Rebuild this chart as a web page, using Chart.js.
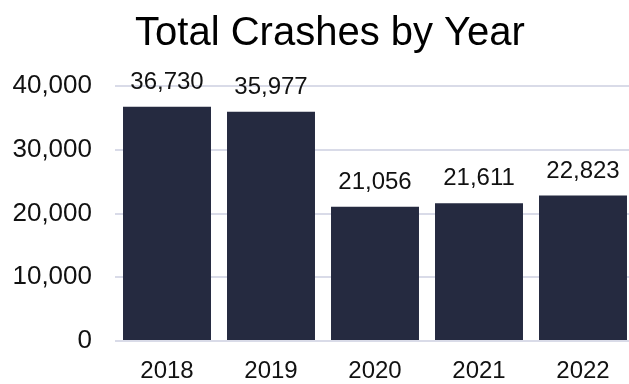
<!DOCTYPE html>
<html>
<head>
<meta charset="utf-8">
<script src="https://cdn.jsdelivr.net/npm/chart.js@4"></script>
<style>
  html, body { margin: 0; padding: 0; background: #fff; overflow: hidden; }
  /* the plot runs a few px past the right edge in the original */
  #wrap { width: 635px; height: 384px; }
</style>
</head>
<body>
<div id="wrap"><canvas id="chart"></canvas></div>
<script>
const chartTitle = "Total Crashes by Year";
const years = ["2018", "2019", "2020", "2021", "2022"];
const crashes = [36730, 35977, 21056, 21611, 22823];
const yTicks = [0, 10000, 20000, 30000, 40000];

const FONT = "'Liberation Sans', Arial, sans-serif";

// draws the value above each bar, plus the title (a bit right of centre like the original)
const barLabels = {
  id: "barLabels",
  afterDatasetsDraw(chart) {
    const ctx = chart.ctx;
    const meta = chart.getDatasetMeta(0);
    ctx.save();
    ctx.font = "24px " + FONT;
    ctx.fillStyle = "#111";
    ctx.textAlign = "center";
    ctx.textBaseline = "alphabetic";
    meta.data.forEach((bar, i) => {
      ctx.fillText(crashes[i].toLocaleString("en-US"), bar.x, bar.y - 18);
    });
    ctx.font = "40px " + FONT;
    ctx.fillStyle = "#000";
    ctx.fillText(chartTitle, 330, 45);
    ctx.restore();
  }
};

new Chart(document.getElementById("chart"), {
  type: "bar",
  data: {
    labels: years,
    datasets: [{
      label: "Total Crashes",
      data: crashes,
      backgroundColor: "#252a40",
      categoryPercentage: 0.846,
      barPercentage: 1
    }]
  },
  options: {
    responsive: true,
    maintainAspectRatio: false,
    animation: false,
    layout: { padding: { top: 86, left: 0, right: 0, bottom: 0 } },
    plugins: {
      legend: { display: false },
      tooltip: { enabled: false },
      title: { display: false }
    },
    scales: {
      x: {
        afterFit(scale) { scale.height = 43; },
        grid: { display: false, drawTicks: false },
        border: { display: false },
        ticks: { color: "#111", font: { family: FONT, size: 24, lineHeight: 1 }, padding: 18 }
      },
      y: {
        min: 0,
        max: 40000,
        afterFit(scale) { scale.width = 115; },
        afterBuildTicks(axis) { axis.ticks = yTicks.map(v => ({ value: v })); },
        grid: { color: "#d9dbe8", lineWidth: 2, drawTicks: false },
        border: { display: false },
        ticks: {
          color: "#111",
          font: { family: FONT, size: 26 },
          padding: 23,
          callback: v => v.toLocaleString("en-US")
        }
      }
    }
  },
  plugins: [barLabels]
});
</script>
</body>
</html>
